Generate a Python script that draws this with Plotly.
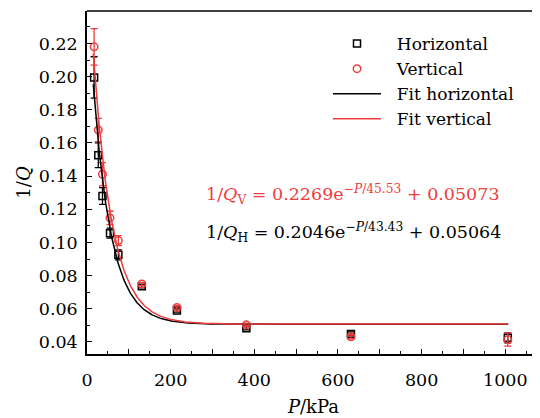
import numpy as np
import plotly.graph_objects as go

# Measured data (P in kPa, 1/Q)
p_h = [17, 27, 37, 55, 75, 131, 215, 381, 631, 1006]
q_h = [0.1995, 0.1526, 0.1280, 0.1056, 0.0925, 0.0736, 0.0590, 0.0483, 0.0448, 0.0425]
e_h = [0.0125, 0.0075, 0.0050, 0.0030, 0.0030, 0.0010, 0.0010, 0.0010, 0.0012, 0.0030]

p_v = [17, 27, 37, 55, 75, 131, 215, 381, 631, 1006]
q_v = [0.2180, 0.1678, 0.1411, 0.1148, 0.1011, 0.0749, 0.0608, 0.0503, 0.0431, 0.0414]
e_v = [0.0110, 0.0070, 0.0070, 0.0040, 0.0030, 0.0010, 0.0010, 0.0010, 0.0012, 0.0040]

# Fit parameters: 1/Q = A*exp(-P/t) + y0
fit_h = [0.2046, 43.43, 0.05064]
fit_v = [0.2269, 45.53, 0.05073]
fit_range = [15, 1007]

RED = "#f03c3c"
FONT = "DejaVu Serif"
NB = "\u00a0\u00a0"

pf = np.linspace(fit_range[0], fit_range[1], 600)
fh = fit_h[0] * np.exp(-pf / fit_h[1]) + fit_h[2]
fv = fit_v[0] * np.exp(-pf / fit_v[1]) + fit_v[2]

fig = go.Figure()
fig.add_trace(go.Scatter(
    x=p_h, y=q_h, mode="markers", name=NB + "Horizontal",
    marker=dict(symbol="square-open", size=7, color="black", line=dict(width=1.5)),
    error_y=dict(type="data", array=e_h, color="black", thickness=1.3, width=3.5),
))
fig.add_trace(go.Scatter(
    x=p_v, y=q_v, mode="markers", name=NB + "Vertical",
    marker=dict(symbol="circle-open", size=7.5, color=RED, line=dict(width=1.5)),
    error_y=dict(type="data", array=e_v, color=RED, thickness=1.3, width=3.5),
))
fig.add_trace(go.Scatter(x=pf, y=fh, mode="lines", name=NB + "Fit horizontal",
                         line=dict(color="black", width=1.5)))
fig.add_trace(go.Scatter(x=pf, y=fv, mode="lines", name=NB + "Fit vertical",
                         line=dict(color=RED, width=1.5)))

xt = list(range(0, 1001, 100))
fig.update_xaxes(
    range=[0, 1083], tickvals=xt,
    ticktext=[str(v) if v % 200 == 0 else "" for v in xt],
    ticks="inside", ticklen=5, tickwidth=1.3, tickcolor="black",
    minor=dict(dtick=50, tick0=0, ticks="inside", ticklen=3, tickwidth=1.3, tickcolor="black"),
    showline=True, linecolor="black", linewidth=1.5, showgrid=False, zeroline=False,
    title=dict(text="<i>P</i>/kPa", standoff=12, font=dict(size=18)),
    tickfont=dict(size=17.5), ticklabelstandoff=9, automargin=False,
)
yt = [round(0.04 + 0.02 * i, 2) for i in range(10)]
fig.update_yaxes(
    range=[0.0327, 0.2396], tickvals=yt, ticktext=[f"{v:.2f}" for v in yt],
    ticks="inside", ticklen=5, tickwidth=1.3, tickcolor="black",
    minor=dict(dtick=0.01, tick0=0.0, ticks="inside", ticklen=3, tickwidth=1.3, tickcolor="black"),
    showline=True, linecolor="black", linewidth=1.5, showgrid=False, zeroline=False,
    title=dict(text="1/<i>Q</i>", standoff=3, font=dict(size=18)),
    tickfont=dict(size=17.5), ticklabelstandoff=4, automargin=False,
)
fig.add_shape(type="line", xref="paper", yref="paper", x0=0, x1=1, y0=1, y1=1,
              line=dict(color="black", width=1.5))

# positions below are in page pixels (page has an 8px body margin)
OFF = 8
fig.add_annotation(
    x=204, y=195, xref="x domain", yref="y domain", showarrow=False,
    text="1/<i>Q</i><sub>V</sub> = 0.2269e<sup>−<i>P</i>/45.53</sup> + 0.05073",
    font=dict(color=RED, size=17.5, family=FONT), xanchor="left", yanchor="middle",
)
fig.add_annotation(
    x=204, y=233, xref="x domain", yref="y domain", showarrow=False,
    text="1/<i>Q</i><sub>H</sub> = 0.2046e<sup>−<i>P</i>/43.43</sup> + 0.05064",
    font=dict(color="black", size=17.5, family=FONT), xanchor="left", yanchor="middle",
)

W, H = 532, 410
L, T, B = 79, 3, 63.6
pw, ph = W - L, H - T - B
for a in fig.layout.annotations:
    a.x = (a.x - OFF - L) / pw
    a.y = 1 - (a.y - OFF - T) / ph

fig.update_layout(
    width=W, height=H, margin=dict(l=L, r=0, t=T, b=B, pad=0),
    paper_bgcolor="white", plot_bgcolor="white",
    font=dict(family=FONT, size=17.5, color="black"),
    legend=dict(x=(328 - OFF - L) / pw, y=1 - (26 - OFF - T) / ph,
                xanchor="left", yanchor="top",
                bgcolor="rgba(0,0,0,0)", itemwidth=48, tracegroupgap=0,
                font=dict(size=17)),
    showlegend=True,
)
fig.write_html("out.html")
